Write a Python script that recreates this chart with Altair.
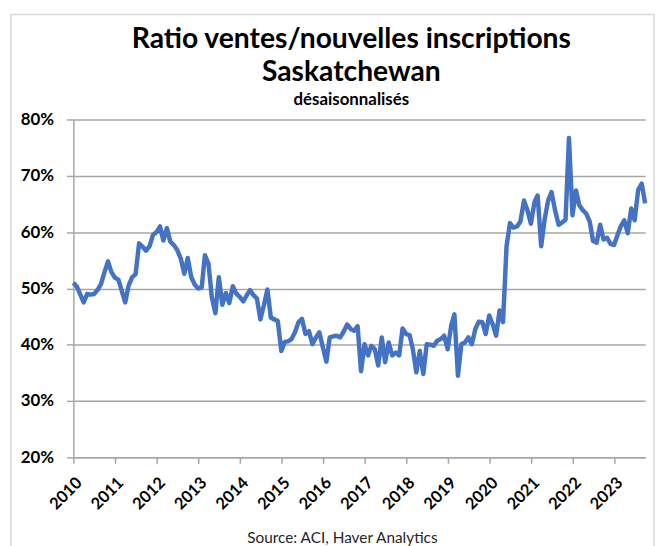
import altair as alt
import pandas as pd

# Monthly sales-to-new-listings ratio (%), Saskatchewan, seasonally adjusted
r2010 = [51.0, 50.3, 49.0, 47.5, 49.0, 48.9, 49.0, 49.7, 50.8, 52.9, 54.8, 52.9]
r2011 = [51.9, 51.5, 49.6, 47.5, 50.5, 52.0, 52.5, 58.0, 57.4, 56.7, 57.5, 59.5]
r2012 = [60.0, 61.0, 58.5, 60.7, 58.3, 57.7, 56.8, 55.3, 52.6, 55.4, 52.0, 50.7]
r2013 = [50.0, 50.2, 55.9, 54.4, 48.4, 45.6, 52.0, 47.1, 49.2, 47.4, 50.4, 49.1]
r2014 = [48.5, 47.7, 48.7, 49.7, 48.8, 48.2, 44.5, 47.0, 49.8, 44.8, 44.5, 44.2]
r2015 = [38.9, 40.5, 40.6, 41.0, 42.2, 44.0, 44.6, 41.9, 42.4, 40.1, 41.3, 42.2]
r2016 = [39.5, 37.0, 41.3, 41.5, 41.6, 41.3, 42.3, 43.6, 42.8, 42.5, 43.3, 35.3]
r2017 = [40.1, 38.1, 39.8, 39.2, 36.3, 41.3, 36.9, 40.4, 38.1, 38.6, 38.1, 42.9]
r2018 = [41.9, 41.7, 39.2, 35.1, 38.9, 34.8, 40.1, 40.0, 39.8, 40.7, 41.0, 41.6]
r2019 = [39.2, 43.4, 45.4, 34.5, 40.1, 40.4, 41.3, 40.1, 42.8, 44.1, 44.0, 41.9]
r2020 = [45.2, 43.6, 41.6, 46.1, 44.0, 57.5, 61.6, 60.8, 61.0, 61.9, 65.6, 63.9]
r2021 = [61.5, 65.3, 66.5, 57.5, 62.2, 65.6, 67.1, 63.9, 61.3, 61.7, 62.2, 76.7]
r2022 = [63.0, 67.4, 64.8, 63.9, 63.3, 61.9, 58.4, 58.1, 61.3, 58.7, 59.0, 57.9]
r2023 = [57.7, 59.5, 61.0, 62.1, 59.8, 64.2, 62.1, 67.5, 68.6, 65.1]

year_ticks = list(range(2010, 2024))
pct_ticks = [0.2, 0.3, 0.4, 0.5, 0.6, 0.7, 0.8]

values = (r2010 + r2011 + r2012 + r2013 + r2014 + r2015 + r2016 + r2017
          + r2018 + r2019 + r2020 + r2021 + r2022 + r2023)
dates = pd.date_range("2010-01-01", periods=len(values), freq="MS")
df = pd.DataFrame({"date": dates.strftime("%Y-%m-%d"), "ratio": [v / 100 for v in values]})

FONT = "Lato"
GRAY = "#a6a6a6"

line = alt.Chart(df).mark_line(color="#4472C4", strokeWidth=4.5, strokeJoin="round").encode(
    x=alt.X(
        "date:T",
        scale=alt.Scale(domain=[alt.DateTime(year=2010, month=1, date=1),
                                alt.DateTime(year=2023, month=10, date=1)]),
        axis=alt.Axis(
            values=[alt.DateTime(year=y, month=1, date=1) for y in year_ticks],
            format="%Y",
            labelAngle=-45,
            labelAlign="right",
            labelBaseline="top",
            labelFontSize=16.5,
            labelPadding=11,
            labelOverlap=False,
            labelFlush=False,
            tickSize=6,
            grid=False,
            title="Source: ACI, Haver Analytics",
            titleFont=FONT,
            titleFontSize=15.5,
            titleFontWeight="normal",
            titleColor="#262626",
            titleX=271,
            titleY=81,
            titleBaseline="middle",
            titleAlign="center",
        ),
    ),
    y=alt.Y(
        "ratio:Q",
        scale=alt.Scale(domain=[0.2, 0.8]),
        axis=alt.Axis(
            values=pct_ticks,
            format=".0%",
            labelFontSize=17,
            labelPadding=13,
            tickSize=7,
            grid=True,
            title=None,
        ),
    ),
)

border = alt.Chart(pd.DataFrame({"a": [0]})).mark_rect(
    fill="transparent", stroke="#d9d9d9", strokeWidth=1.5
).encode(
    x=alt.value(-63), x2=alt.value(586), y=alt.value(-106), y2=alt.value(450)
)

chart = alt.layer(border, line).properties(
    width=577,
    height=341,
    autosize=alt.AutoSizeParams(type="none"),
    padding={"left": 66, "top": 110, "right": 14, "bottom": 90},
    title=alt.TitleParams(
        text=["Ratio ventes/nouvelles inscriptions", "Saskatchewan"],
        subtitle="désaisonnalisés",
        font=FONT,
        fontSize=28.5,
        fontWeight="bold",
        lineHeight=33,
        color="black",
        subtitleFont=FONT,
        subtitleFontSize=17,
        subtitleFontWeight="bold",
        subtitleColor="black",
        subtitlePadding=6,
        anchor="middle",
        dx=-8,
        offset=-95,
    ),
).configure_axis(
    domainColor=GRAY,
    domainWidth=1.5,
    gridColor=GRAY,
    gridWidth=1.5,
    tickColor=GRAY,
    tickWidth=1.5,
    labelColor="black",
    labelFont=FONT,
    labelFontWeight="bold",
).configure_view(strokeWidth=0)

chart.save("out.html", embed_options={"renderer": "svg", "actions": False})
